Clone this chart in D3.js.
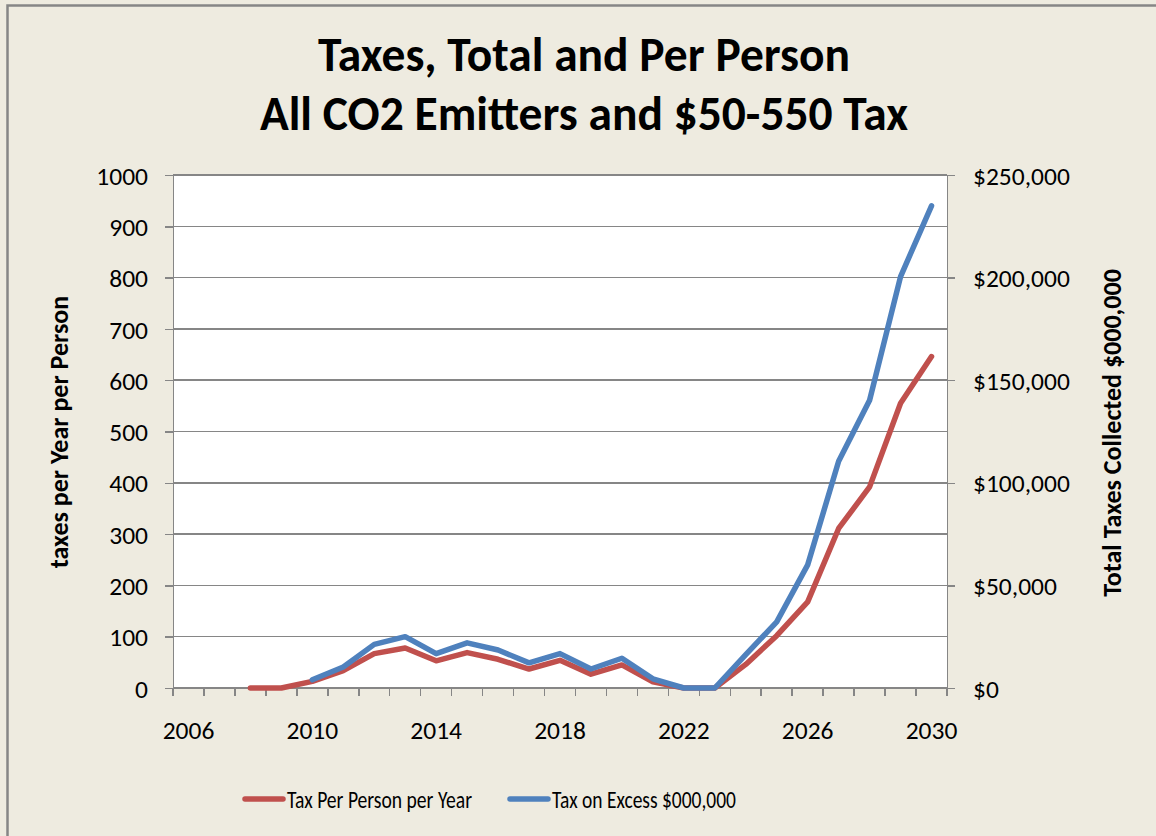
<!DOCTYPE html>
<html lang="en">
<head>
    <meta charset="utf-8">
    <title>Taxes, Total and Per Person</title>
    <script type="text/javascript" src="https://d3js.org/d3.v7.min.js"></script>
    <style>
        html, body {
            margin: 0;
            padding: 0;
            background: #eeebe0;
        }
        text {
            font-family: Carlito, Calibri, Lato, "Open Sans", sans-serif;
            fill: #000;
        }
        .axis path, .axis line, .grid line {
            fill: none;
            stroke: #868686;
            stroke-width: 1.5px;
            shape-rendering: crispEdges;
        }
        .axis text { font-size: 25.5px; }
        path.line {
            fill: none;
            stroke-width: 5.5px;
            stroke-linejoin: round;
            stroke-linecap: round;
        }
    </style>
</head>
<body>
<script type="text/javascript">
    // categories on the x axis
    var years = d3.range(2006, 2031);
    var yearLabels = [2006, 2010, 2014, 2018, 2022, 2026, 2030];

    // Tax Per Person per Year (left axis), starts 2008
    var perPersonYears = d3.range(2008, 2031);
    var perPerson = [0, 0, 13, 34, 67, 78, 53, 69, 56, 37, 54, 27, 45, 12, 0, 0, 46, 102, 168, 311, 392, 555, 646];

    // Tax on Excess $000,000 (right axis), starts 2010
    var excessYears = d3.range(2010, 2031);
    var excess = [4000, 10250, 21250, 25000, 16750, 22000, 18500, 12250, 16750, 9250, 14500, 4500, 0, 0, 16250, 32250, 60000, 110500, 140250, 200500, 235000];

    var leftTicks = d3.range(0, 1001, 100);
    var rightTicks = d3.range(0, 250001, 50000);

    var W = 1156, H = 836;
    var plot = {left: 173, right: 947, top: 175, bottom: 688};

    var svg = d3.select("body").append("svg").attr("width", W).attr("height", H);

    // outer frame
    svg.append("rect").attr("x", 7.5).attr("y", 5.5).attr("width", W + 10).attr("height", H + 10)
        .attr("fill", "#eeebe0").attr("stroke", "#868686").attr("stroke-width", 2.5);

    svg.append("rect").attr("x", plot.left).attr("y", plot.top)
        .attr("width", plot.right - plot.left).attr("height", plot.bottom - plot.top)
        .attr("fill", "#fff");

    var x = d3.scaleBand().domain(years).range([plot.left, plot.right]).padding(0);
    var xc = function(yr) { return x(yr) + x.bandwidth() / 2; };
    var yL = d3.scaleLinear().domain([0, 1000]).range([plot.bottom, plot.top]);
    var yR = d3.scaleLinear().domain([0, 250000]).range([plot.bottom, plot.top]);

    // gridlines
    svg.append("g").attr("class", "grid")
        .selectAll("line").data(leftTicks).enter().append("line")
        .attr("x1", plot.left).attr("x2", plot.right)
        .attr("y1", function(d){ return yL(d); }).attr("y2", function(d){ return yL(d); });

    // x axis: ticks between categories, labels every 4 years
    var xAxisG = svg.append("g").attr("class", "axis x");
    xAxisG.append("line").attr("x1", plot.left).attr("x2", plot.right)
        .attr("y1", plot.bottom).attr("y2", plot.bottom);
    xAxisG.selectAll("line.tick").data(years.concat([null])).enter().append("line")
        .attr("class", "tick")
        .attr("x1", function(d, i){ return plot.left + i * x.bandwidth(); })
        .attr("x2", function(d, i){ return plot.left + i * x.bandwidth(); })
        .attr("y1", plot.bottom).attr("y2", plot.bottom + 8);
    xAxisG.selectAll("text").data(yearLabels).enter().append("text")
        .attr("x", function(d){ return xc(d); })
        .attr("y", plot.bottom + 51)
        .attr("text-anchor", "middle")
        .text(function(d){ return d; });

    var yAxisL = d3.axisLeft(yL).tickValues(leftTicks).tickSizeOuter(0).tickSize(8).tickPadding(17)
        .tickFormat(d3.format("d"));
    svg.append("g").attr("class", "axis yl")
        .attr("transform", "translate(" + plot.left + ",0)")
        .call(yAxisL);

    var yAxisR = d3.axisRight(yR).tickValues(rightTicks).tickSizeOuter(0).tickSize(8).tickPadding(18)
        .tickFormat(function(d){ return "$" + d3.format(",")(d); });
    svg.append("g").attr("class", "axis yr")
        .attr("transform", "translate(" + plot.right + ",0)")
        .call(yAxisR);

    svg.selectAll(".axis.yl text, .axis.yr text").attr("dy", "0.36em");

    // lines
    var lineL = d3.line().x(function(d){ return xc(d[0]); }).y(function(d){ return yL(d[1]); });
    var lineR = d3.line().x(function(d){ return xc(d[0]); }).y(function(d){ return yR(d[1]); });

    svg.append("path").attr("class", "line").attr("stroke", "#c0504d")
        .attr("d", lineL(d3.zip(perPersonYears, perPerson)));
    svg.append("path").attr("class", "line").attr("stroke", "#4f81bd")
        .attr("d", lineR(d3.zip(excessYears, excess)));

    // titles
    svg.append("text").attr("x", 584).attr("y", 71).attr("text-anchor", "middle")
        .style("font-size", "47.5px").style("font-weight", "bold")
        .text("Taxes, Total and Per Person");
    svg.append("text").attr("x", 584).attr("y", 130).attr("text-anchor", "middle")
        .style("font-size", "47.5px").style("font-weight", "bold")
        .text("All CO2 Emitters and $50-550 Tax");

    svg.append("text").attr("transform", "translate(68,432) rotate(-90)")
        .attr("text-anchor", "middle")
        .style("font-size", "26px").style("font-weight", "bold")
        .text("taxes per Year per Person");
    svg.append("text").attr("transform", "translate(1121,433) rotate(-90)")
        .attr("text-anchor", "middle")
        .style("font-size", "26px").style("font-weight", "bold")
        .text("Total Taxes Collected $000,000");

    // legend
    var legend = [
        {name: "Tax Per Person per Year", color: "#c0504d", x: 245, len: 185},
        {name: "Tax on Excess $000,000", color: "#4f81bd", x: 510, len: 184}
    ];
    var lg = svg.append("g").selectAll("g").data(legend).enter().append("g")
        .attr("transform", function(d){ return "translate(" + d.x + ",799)"; });
    lg.append("line").attr("x1", 0).attr("x2", 38).attr("y1", 0).attr("y2", 0)
        .attr("stroke", function(d){ return d.color; }).attr("stroke-width", 5.5)
        .attr("stroke-linecap", "round");
    lg.append("text").attr("x", 42).attr("y", 9).style("font-size", "25px")
        .attr("textLength", function(d){ return d.len; })
        .attr("lengthAdjust", "spacingAndGlyphs")
        .text(function(d){ return d.name; });
</script>
</body>
</html>
